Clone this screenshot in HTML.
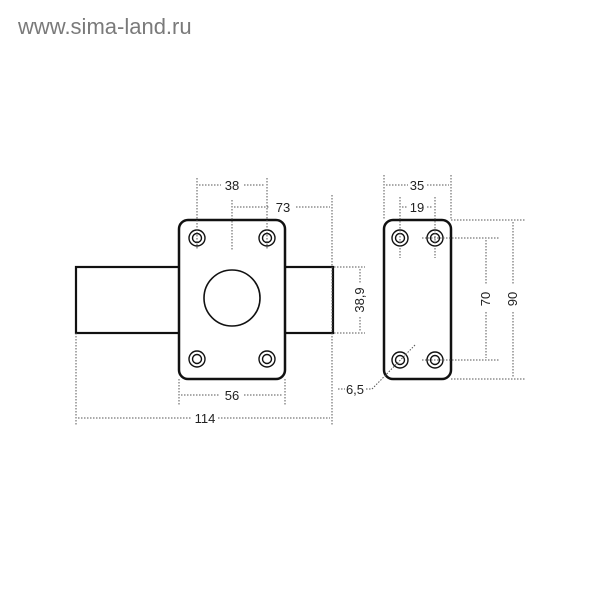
<!DOCTYPE html>
<html><head><meta charset="utf-8"><style>
html,body{margin:0;padding:0;background:#fff;width:600px;height:600px;overflow:hidden}
</style></head><body>
<svg width="600" height="600" xmlns="http://www.w3.org/2000/svg" font-family="Liberation Sans, sans-serif">
<text x="18" y="34" font-size="22" fill="#7a7a7a">www.sima-land.ru</text>
<g fill="none" stroke="#111">
<rect x="76" y="267" width="257" height="66" stroke-width="2.2"/>
<rect x="179" y="220" width="106" height="159" rx="9" fill="#fff" stroke-width="2.5"/>
<circle cx="232" cy="298" r="28" stroke-width="1.6"/>
<g stroke-width="1.4">
<circle cx="197" cy="238" r="8"/><circle cx="197" cy="238" r="4.5"/>
<circle cx="267" cy="238" r="8"/><circle cx="267" cy="238" r="4.5"/>
<circle cx="197" cy="359" r="8"/><circle cx="197" cy="359" r="4.5"/>
<circle cx="267" cy="359" r="8"/><circle cx="267" cy="359" r="4.5"/>
</g>
<rect x="384" y="220" width="67" height="159" rx="9" fill="#fff" stroke-width="2.5"/>
<g stroke-width="1.4">
<circle cx="400" cy="238" r="8"/><circle cx="400" cy="238" r="4.5"/>
<circle cx="435" cy="238" r="8"/><circle cx="435" cy="238" r="4.5"/>
<circle cx="400" cy="360" r="8"/><circle cx="400" cy="360" r="4.5"/>
<circle cx="435" cy="360" r="8"/><circle cx="435" cy="360" r="4.5"/>
</g>
</g>
<g stroke="#555" stroke-width="1" stroke-dasharray="1.5,1.5" fill="none">
<line x1="197" y1="178" x2="197" y2="250"/><line x1="267" y1="178" x2="267" y2="250"/>
<line x1="199" y1="185" x2="221" y2="185"/><line x1="244" y1="185" x2="265" y2="185"/>
<line x1="232" y1="200" x2="232" y2="250"/><line x1="332" y1="195" x2="332" y2="425"/>
<line x1="234" y1="207" x2="270" y2="207"/><line x1="296" y1="207" x2="330" y2="207"/>
<line x1="179" y1="379" x2="179" y2="405"/><line x1="285" y1="379" x2="285" y2="405"/>
<line x1="181" y1="395" x2="220" y2="395"/><line x1="244" y1="395" x2="283" y2="395"/>
<line x1="76" y1="333" x2="76" y2="425"/>
<line x1="78" y1="418" x2="192" y2="418"/><line x1="218" y1="418" x2="330" y2="418"/>
<line x1="334" y1="267" x2="365" y2="267"/><line x1="334" y1="333" x2="365" y2="333"/>
<line x1="360" y1="269" x2="360" y2="284"/><line x1="360" y1="317" x2="360" y2="331"/>
<line x1="384" y1="175" x2="384" y2="220"/><line x1="451" y1="175" x2="451" y2="220"/>
<line x1="386" y1="185" x2="408" y2="185"/><line x1="427" y1="185" x2="449" y2="185"/>
<line x1="400" y1="197" x2="400" y2="258"/><line x1="435" y1="197" x2="435" y2="258"/>
<line x1="402" y1="207" x2="408" y2="207"/><line x1="427" y1="207" x2="433" y2="207"/>
<line x1="422" y1="238" x2="500" y2="238"/><line x1="422" y1="360" x2="500" y2="360"/>
<line x1="486" y1="240" x2="486" y2="285"/><line x1="486" y1="312" x2="486" y2="358"/>
<line x1="451" y1="220" x2="525" y2="220"/><line x1="451" y1="379" x2="525" y2="379"/>
<line x1="513" y1="222" x2="513" y2="285"/><line x1="513" y1="312" x2="513" y2="377"/>
<line x1="338" y1="389" x2="345" y2="389"/><line x1="366" y1="389" x2="372" y2="389"/>
<line x1="372" y1="389" x2="416" y2="344"/>
</g>
<g font-size="13" fill="#222" text-anchor="middle">
<text x="232" y="190">38</text>
<text x="283" y="212">73</text>
<text x="232" y="400">56</text>
<text x="205" y="423">114</text>
<text x="417" y="190">35</text>
<text x="417" y="212">19</text>
<text x="355" y="394">6,5</text>
<text transform="translate(364,300) rotate(-90)">38,9</text>
<text transform="translate(490,299) rotate(-90)">70</text>
<text transform="translate(517,299) rotate(-90)">90</text>
</g>
</svg>
</body></html>
